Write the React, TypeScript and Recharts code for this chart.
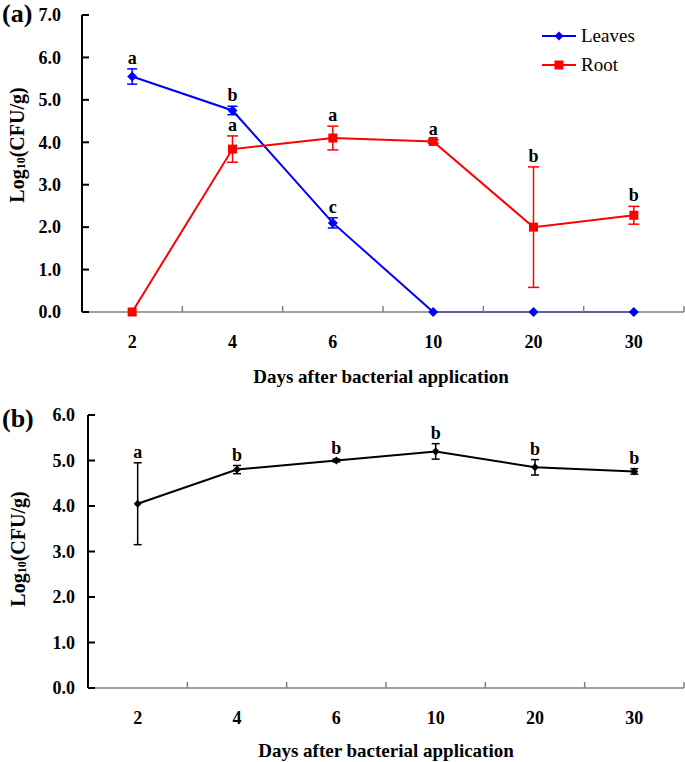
import React from "react";
import { LineChart, Line, XAxis, YAxis, ErrorBar, LabelList, Legend } from "recharts";

const days = ["2", "4", "6", "10", "20", "30"];

// (a) leaves / root colonisation
const leaves = [5.55, 4.75, 2.1, 0, 0, 0];
const leavesErr = [0.18, 0.1, 0.12, 0, 0, 0];
const leavesSig = ["a", "b", "c", "", "", ""];
const root = [0, 3.84, 4.1, 4.02, 2.0, 2.28];
const rootErr = [0, 0.31, 0.28, 0.04, 1.42, 0.21];
const rootSig = ["", "a", "a", "a", "b", "b"];
const ticksA = [0, 1, 2, 3, 4, 5, 6, 7];

// (b) whole plant
const whole = [4.05, 4.8, 5.0, 5.2, 4.85, 4.76];
const wholeErr = [0.9, 0.09, 0.03, 0.17, 0.17, 0.06];
const wholeSig = ["a", "b", "b", "b", "b", "b"];
const ticksB = [0, 1, 2, 3, 4, 5, 6];

const FONT = "'Liberation Serif', 'Times New Roman', serif";
const W = 685;

const dataA = days.map((d, i) => ({
  day: d,
  leaves: leaves[i],
  leavesErr: leavesErr[i],
  leavesTop: leaves[i] + leavesErr[i],
  leavesSig: leavesSig[i],
  root: root[i],
  rootErr: rootErr[i],
  rootTop: root[i] + rootErr[i],
  rootSig: rootSig[i],
}));

const dataB = days.map((d, i) => ({
  day: d,
  whole: whole[i],
  wholeErr: wholeErr[i],
  wholeTop: whole[i] + wholeErr[i],
  wholeSig: wholeSig[i],
}));

const XTick = ({ x, y, payload, half }: any) => (
  <g>
    <line x1={x + half} x2={x + half} y1={y} y2={y - 6} stroke="#808080" strokeWidth={1.5} />
    <text x={x} y={y + 36} textAnchor="middle" fontFamily={FONT} fontWeight="bold" fontSize={18} fill="#000">
      {payload.value}
    </text>
  </g>
);

const YTick = ({ x, y, payload, gap }: any) => (
  <g>
    <line x1={x} x2={x + 7} y1={y} y2={y} stroke="#000" strokeWidth={2} />
    <text x={x - gap} y={y} dy="0.35em" textAnchor="end" fontFamily={FONT} fontWeight="bold" fontSize={18} fill="#000">
      {Number(payload.value).toFixed(1)}
    </text>
  </g>
);

const XTitle = ({ lx, ly }: any) => (
  <text x={lx} y={ly} textAnchor="middle" fontFamily={FONT} fontWeight="bold" fontSize={19} fill="#000">
    Days after bacterial application
  </text>
);

const YTitle = ({ lx, ly }: any) => (
  <text
    transform={`translate(${lx},${ly}) rotate(-90)`}
    textAnchor="middle"
    dominantBaseline="central"
    fontFamily={FONT}
    fontWeight="bold"
    fontSize={20}
    fill="#000"
  >
    Log<tspan fontSize={12} dy={4}>10</tspan>
    <tspan dy={-4}>(CFU/g)</tspan>
  </text>
);

const Diamond = ({ cx, cy, r, color }: any) =>
  cx == null || cy == null ? null : (
    <path d={`M${cx},${cy - r} L${cx + r},${cy} L${cx},${cy + r} L${cx - r},${cy} Z`} fill={color} />
  );

const Square = ({ cx, cy, r, color }: any) =>
  cx == null || cy == null ? null : <rect x={cx - r} y={cy - r} width={2 * r} height={2 * r} fill={color} />;

const LegendA = () => (
  <div style={{ fontFamily: FONT, fontSize: 19, color: "#000" }}>
    {[
      { name: "Leaves", color: "#0000ff", shape: "diamond" },
      { name: "Root", color: "#ff0000", shape: "square" },
    ].map((s) => (
      <div key={s.name} style={{ display: "flex", alignItems: "center", height: 29 }}>
        <svg width={34} height={12}>
          <line x1={0} x2={34} y1={6} y2={6} stroke={s.color} strokeWidth={2} />
          {s.shape === "diamond" ? (
            <Diamond cx={17} cy={6} r={4.5} color={s.color} />
          ) : (
            <Square cx={17} cy={6} r={4.5} color={s.color} />
          )}
        </svg>
        <span style={{ marginLeft: 5, lineHeight: "20px" }}>{s.name}</span>
      </div>
    ))}
  </div>
);

const sigStyle = { fontFamily: FONT, fontWeight: "bold", fontSize: 18, fill: "#000" };

const PanelTag = ({ text, top }: any) => (
  <div
    style={{
      position: "absolute",
      left: 2,
      top,
      fontFamily: FONT,
      fontWeight: "bold",
      fontSize: 26,
      lineHeight: "28px",
      color: "#000",
    }}
  >
    {text}
  </div>
);

export default function App() {
  const aLeft = 82;
  const bLeft = 88;
  const right = 1;
  const halfA = (W - aLeft - right) / days.length / 2;
  const halfB = (W - bLeft - right) / days.length / 2;

  return (
    <div style={{ position: "absolute", left: 0, top: 0, width: W, height: 762, background: "#fff" }}>
      <div style={{ position: "absolute", left: 0, top: 0 }}>
        <LineChart width={W} height={390} data={dataA} margin={{ top: 15, right, bottom: 0, left: 0 }}>
          <XAxis
            dataKey="day"
            scale="band"
            height={78}
            interval={0}
            tickSize={0}
            tickMargin={0}
            tickLine={false}
            axisLine={{ stroke: "#808080", strokeWidth: 1.5 }}
            tick={<XTick half={halfA} />}
            label={<XTitle lx={381} ly={383} />}
          />
          <YAxis
            type="number"
            domain={[0, 7]}
            ticks={ticksA}
            interval={0}
            width={aLeft}
            tickSize={0}
            tickMargin={0}
            tickLine={false}
            axisLine={{ stroke: "#000", strokeWidth: 2 }}
            tick={<YTick gap={21} />}
            label={<YTitle lx={17} ly={145} />}
          />
          <Legend
            layout="vertical"
            align="center"
            verticalAlign="middle"
            wrapperStyle={{ top: 21, left: 542, width: 120, height: 60 }}
            content={() => <LegendA />}
          />
          <Line
            dataKey="leaves"
            name="Leaves"
            stroke="#0000ff"
            strokeWidth={2}
            isAnimationActive={false}
            dot={(p: any) => <Diamond key={`l${p.index}`} cx={p.cx} cy={p.cy} r={5} color="#0000ff" />}
            activeDot={false}
          >
            <ErrorBar dataKey="leavesErr" width={5} stroke="#0000ff" strokeWidth={1.5} direction="y" />
          </Line>
          <Line
            dataKey="root"
            name="Root"
            stroke="#ff0000"
            strokeWidth={2}
            isAnimationActive={false}
            dot={(p: any) => <Square key={`r${p.index}`} cx={p.cx} cy={p.cy} r={4.5} color="#ff0000" />}
            activeDot={false}
          >
            <ErrorBar dataKey="rootErr" width={5.5} stroke="#ff0000" strokeWidth={1.5} direction="y" />
          </Line>
          <Line dataKey="leavesTop" stroke="none" dot={false} activeDot={false} legendType="none" isAnimationActive={false}>
            <LabelList dataKey="leavesSig" position="top" offset={5} {...sigStyle} />
          </Line>
          <Line dataKey="rootTop" stroke="none" dot={false} activeDot={false} legendType="none" isAnimationActive={false}>
            <LabelList dataKey="rootSig" position="top" offset={5} {...sigStyle} />
          </Line>
        </LineChart>
      </div>
      <PanelTag text="(a)" top={0} />

      <div style={{ position: "absolute", left: 0, top: 400 }}>
        <LineChart width={W} height={362} data={dataB} margin={{ top: 15, right, bottom: 0, left: 0 }}>
          <XAxis
            dataKey="day"
            scale="band"
            height={74}
            interval={0}
            tickSize={0}
            tickMargin={0}
            tickLine={false}
            axisLine={{ stroke: "#808080", strokeWidth: 1.5 }}
            tick={<XTick half={halfB} />}
            label={<XTitle lx={386} ly={357} />}
          />
          <YAxis
            type="number"
            domain={[0, 6]}
            ticks={ticksB}
            interval={0}
            width={bLeft}
            tickSize={0}
            tickMargin={0}
            tickLine={false}
            axisLine={{ stroke: "#000", strokeWidth: 2 }}
            tick={<YTick gap={13} />}
            label={<YTitle lx={18} ly={149} />}
          />
          <Line
            dataKey="whole"
            stroke="#000"
            strokeWidth={2}
            isAnimationActive={false}
            dot={(p: any) => <Diamond key={`w${p.index}`} cx={p.cx} cy={p.cy} r={4} color="#000" />}
            activeDot={false}
          >
            <ErrorBar dataKey="wholeErr" width={4} stroke="#000" strokeWidth={1.5} direction="y" />
          </Line>
          <Line dataKey="wholeTop" stroke="none" dot={false} activeDot={false} legendType="none" isAnimationActive={false}>
            <LabelList dataKey="wholeSig" position="top" offset={5} {...sigStyle} />
          </Line>
        </LineChart>
      </div>
      <PanelTag text="(b)" top={405} />
    </div>
  );
}
